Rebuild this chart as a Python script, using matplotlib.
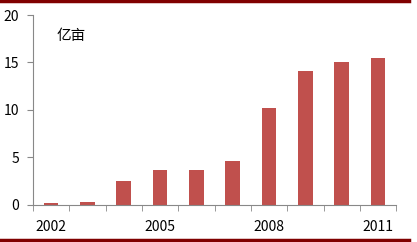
import matplotlib
matplotlib.use("Agg")
import matplotlib.pyplot as plt
from matplotlib.lines import Line2D

plt.rcParams['font.family'] = ['Noto Sans CJK SC', 'DejaVu Sans']

years = ['2002', '2003', '2004', '2005', '2006', '2007', '2008', '2009', '2010', '2011']
values = [0.2, 0.35, 2.5, 3.7, 3.7, 4.6, 10.2, 14.1, 15.0, 15.5]
shown_labels = ['2002', '2005', '2008', '2011']
unit = '亿亩'

fig = plt.figure(figsize=(4.17, 2.42), dpi=100)
ax = fig.add_axes([0.079, 0.153, 0.871, 0.785])

x = list(range(len(years)))
ax.bar(x, values, width=0.4, color='#C0504D')

ax.set_xlim(-0.5, len(years) - 0.5)
ax.set_ylim(0, 20)
ax.set_yticks([0, 5, 10, 15, 20])

# labels only on every third year, ticks between categories
ax.set_xticks(x)
ax.set_xticklabels([y if y in shown_labels else '' for y in years])
ax.set_xticks([i - 0.5 for i in range(len(years) + 1)], minor=True)
ax.tick_params(axis='x', which='major', length=0, pad=11, labelsize=10)
ax.tick_params(axis='x', which='minor', length=4, color='#888888')
ax.tick_params(axis='y', length=4, color='#888888', labelsize=10, pad=6)

for s in ['top', 'right']:
    ax.spines[s].set_visible(False)
for s in ['left', 'bottom']:
    ax.spines[s].set_color('#888888')

ax.text(0.065, 0.87, unit, transform=ax.transAxes, fontsize=10.5)

# dark red rules at top and bottom of the picture
fig.add_artist(Line2D([0, 0.98], [0.995, 0.995], color='#800000', lw=2.5, transform=fig.transFigure))
fig.add_artist(Line2D([0, 0.98], [0.01, 0.01], color='#800000', lw=2.5, transform=fig.transFigure))

fig.savefig('out.png', dpi=100)
